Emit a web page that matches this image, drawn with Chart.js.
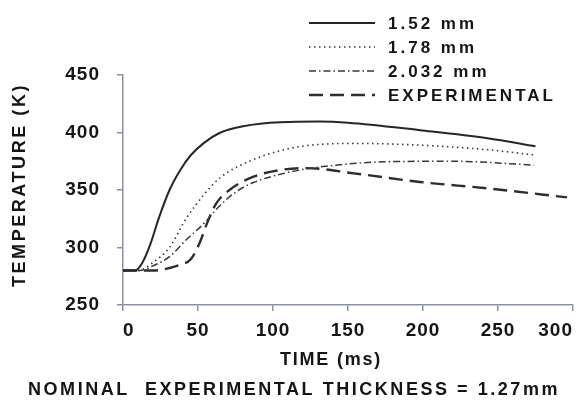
<!DOCTYPE html>
<html>
<head>
<meta charset="utf-8">
<script src="https://cdn.jsdelivr.net/npm/chart.js@4.4.1/dist/chart.umd.min.js"></script>
<style>
  html, body { margin: 0; padding: 0; background: #fff; }
  #grafico { width: 584px; height: 404px; }
</style>
</head>
<body>
<div id="grafico"><canvas id="myChart"></canvas></div>
<script>
// valores: tiempo (ms) y temperatura (K)
const etiquetas = ['1.52 mm', '1.78 mm', '2.032 mm', 'EXPERIMENTAL'];
const ticksX = [0, 50, 100, 150, 200, 250, 300];
const ticksY = [250, 300, 350, 400, 450];

const tiempo152 = [0, 8, 13, 18, 24, 31, 38, 45, 54, 65, 80, 105, 131, 150, 198, 243, 275];
const temp152 = [280, 280, 287, 302, 326, 350, 367, 380, 391, 400, 405.5, 409, 409.5, 408.5, 402, 395, 388];

const tiempo178 = [0, 10, 20, 31, 42, 54, 65, 87, 109, 125, 154, 198, 243, 274];
const temp178 = [280, 280, 287, 300, 325, 346, 361, 376.5, 385.5, 389, 390.5, 389, 385, 380.5];

const tiempo2032 = [0, 11, 20, 31, 42, 54, 65, 76, 87, 109, 131, 176, 220, 274];
const temp2032 = [280, 280, 284, 292, 306.5, 321, 337, 349, 356.5, 365, 370, 374.6, 375, 371.7];

const tiempoExp = [0, 20, 27, 38, 45, 51, 56, 62, 71, 87, 105, 122, 154, 198, 243, 296];
const tempExp = [280, 280, 281, 285, 289.5, 303.6, 321, 338, 350, 361.6, 367.4, 369, 364.5, 357, 351.4, 343.6];

const tituloY = 'TEMPERATURE (K)';
const tituloX = 'TIME (ms)';
const leyenda = 'NOMINAL  EXPERIMENTAL THICKNESS = 1.27mm';

const colorEje = '#8a92a3';
const colorTexto = '#151515';
const fuente = "'Liberation Sans', Arial, sans-serif";

let puntos = (ts, ks) => ts.map((t, i) => ({ x: t, y: ks[i] }));

// escribe un texto estirado hasta ocupar un ancho dado
let textoAjustado = (ctx, texto, x, y, ancho) => {
    ctx.letterSpacing = '0px';
    const w = ctx.measureText(texto).width;
    ctx.letterSpacing = ((ancho - w) / texto.length) + 'px';
    ctx.fillText(texto, x, y);
};

// leyenda y titulos dibujados a mano (la leyenda invade la zona del grafico)
const textos = {
    id: 'textos',
    beforeDraw(chart) {
        chart.ctx.letterSpacing = '1px';
    },
    afterDraw(chart) {
        const ctx = chart.ctx;
        ctx.save();
        ctx.fillStyle = colorTexto;
        ctx.textBaseline = 'middle';
        ctx.textAlign = 'left';

        // leyenda
        const filas = [23, 47, 71, 95];
        chart.data.datasets.forEach((ds, i) => {
            ctx.save();
            ctx.strokeStyle = ds.borderColor;
            ctx.lineWidth = ds.borderWidth;
            ctx.setLineDash(ds.borderDash || []);
            ctx.beginPath();
            ctx.moveTo(309, filas[i]);
            ctx.lineTo(375, filas[i]);
            ctx.stroke();
            ctx.restore();
            ctx.font = 'bold 17px ' + fuente;
            ctx.letterSpacing = '3px';
            ctx.fillText(ds.label, 388, filas[i] + 1);
        });

        // titulo eje x
        ctx.font = 'bold 18px ' + fuente;
        textoAjustado(ctx, tituloX, 280, 360, 102);

        // pie
        ctx.font = 'bold 18px ' + fuente;
        textoAjustado(ctx, leyenda, 28, 390, 532);

        // titulo eje y
        ctx.translate(20, 185);
        ctx.rotate(-Math.PI / 2);
        ctx.font = 'bold 18px ' + fuente;
        textoAjustado(ctx, tituloY, -102, 0, 204);
        ctx.restore();
    }
};

const ejeComun = {
    type: 'linear',
    grid: { display: true, drawOnChartArea: false, drawTicks: true, tickLength: 6, color: colorEje, lineWidth: 1.5 },
    border: { display: true, color: colorEje, width: 1.5 },
    ticks: { color: colorTexto, font: { family: fuente, size: 19, weight: 'bold' } }
};

const ctx = document.getElementById('myChart');
let chart = new Chart(ctx, {
    type: 'line',
    data: {
        datasets: [{
                label: etiquetas[0],
                data: puntos(tiempo152, temp152),
                borderColor: '#262626',
                borderWidth: 2,
                borderDash: []
            },
            {
                label: etiquetas[1],
                data: puntos(tiempo178, temp178),
                borderColor: '#383838',
                borderWidth: 1.6,
                borderDash: [1.5, 3.5]
            },
            {
                label: etiquetas[2],
                data: puntos(tiempo2032, temp2032),
                borderColor: '#383838',
                borderWidth: 1.5,
                borderDash: [7, 3, 1.5, 3]
            },
            {
                label: etiquetas[3],
                data: puntos(tiempoExp, tempExp),
                borderColor: '#2e2e2e',
                borderWidth: 2.4,
                borderDash: [14, 7]
            }
        ]
    },
    options: {
        responsive: true,
        maintainAspectRatio: false,
        animation: false,
        layout: { padding: { top: 75, right: 11, left: 0, bottom: 0 } },
        elements: {
            line: { cubicInterpolationMode: 'monotone', fill: false },
            point: { radius: 0 }
        },
        plugins: {
            legend: { display: false },
            tooltip: { enabled: false }
        },
        scales: {
            x: {
                ...ejeComun,
                min: 0,
                max: 300,
                ticks: { ...ejeComun.ticks, padding: 8, maxRotation: 0, align: 'inner' },
                afterBuildTicks: s => { s.ticks = ticksX.map(v => ({ value: v })); },
                afterFit: s => { s.height = 99; s.paddingLeft = 0; s.paddingRight = 0; }
            },
            y: {
                ...ejeComun,
                min: 250,
                max: 450,
                ticks: { ...ejeComun.ticks, padding: 17 },
                afterBuildTicks: s => { s.ticks = ticksY.map(v => ({ value: v })); },
                afterFit: s => { s.width = 123; }
            }
        }
    },
    plugins: [textos]
});
</script>
</body>
</html>
